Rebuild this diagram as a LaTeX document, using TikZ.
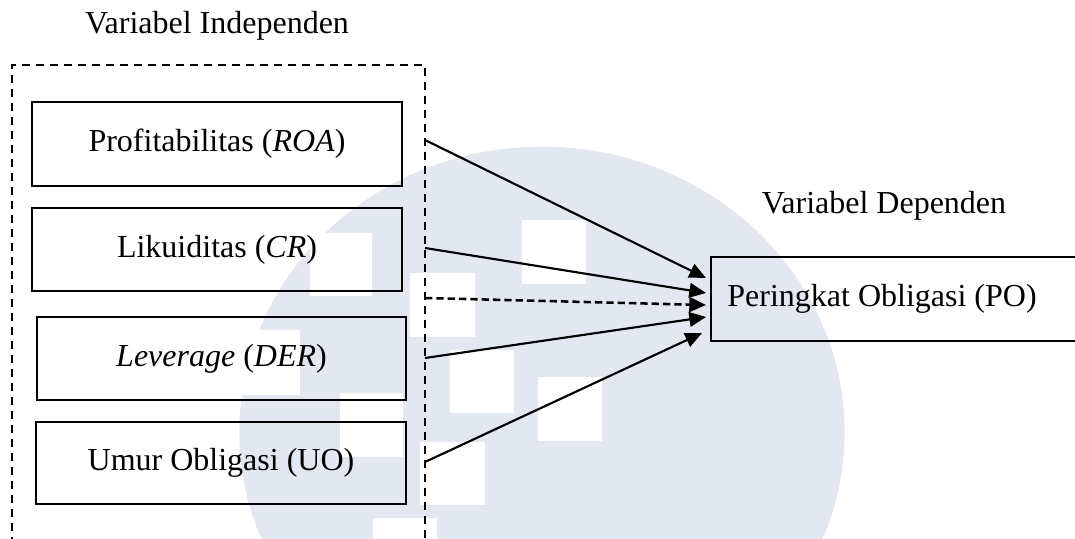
\documentclass[tikz,border=0pt]{standalone}
\usepackage{fontspec}
\setmainfont{Liberation Serif}
\usetikzlibrary{arrows.meta}
\definecolor{wm}{HTML}{E3E8F0}
\begin{document}
\begin{tikzpicture}[x=0.75pt,y=-0.75pt,
  box/.style={draw,line width=1.9pt,rectangle,inner sep=0pt,font=\fontsize{24}{28}\selectfont},
  lbl/.style={font=\fontsize{24}{28}\selectfont,inner sep=0pt,anchor=base},
  conn/.style={line width=1.6pt,-{Triangle[length=12.5pt,width=11pt]}},
  dconn/.style={conn,line width=1.9pt,dash pattern=on 5.5pt off 3pt},
  frame/.style={line width=1.5pt,dash pattern=on 6pt off 4.5pt},
  wsq/.style={fill=white}]
\useasboundingbox (0,0) rectangle (1075,539);
% watermark
\fill[wm] (542,432) ellipse [x radius=227pt, y radius=214pt];
\fill[wsq] (522,220) rectangle (586,284);
\fill[wsq] (410,273) rectangle (475,337);
\fill[wsq] (450,350) rectangle (514,413);
\fill[wsq] (538,377) rectangle (602,441);
\fill[wsq] (310,233) rectangle (372,296);
\fill[wsq] (340,393) rectangle (403,457);
\fill[wsq] (420,442) rectangle (485,505);
\fill[wsq] (373,518) rectangle (437,582);
\fill[wsq] (236,330) rectangle (300,395);
% frame
\draw[frame] (12,545) -- (12,65) -- (425,65) -- (425,545);
% labels
\node[lbl] (vi) at (217,33) {Variabel Independen};
\node[lbl] (vd) at (884,213) {Variabel Dependen};
% boxes
\node[box,minimum width=277.5pt,minimum height=63pt] (roa) at (217,144) {Profitabilitas (\textit{ROA})};
\node[box,minimum width=277.5pt,minimum height=62.25pt] (cr) at (217,249.5) {Likuiditas (\textit{CR})};
\node[box,minimum width=276.75pt,minimum height=62.25pt] (der) at (221.5,358.5) {\textit{Leverage} (\textit{DER})};
\node[box,minimum width=277.5pt,minimum height=61.5pt] (uo) at (221,463) {Umur Obligasi (UO)};
\node[box,minimum width=274.5pt,minimum height=63pt] (po) at (894,299) {Peringkat Obligasi (PO)\hspace*{18pt}};
% connector ends
\coordinate (s1) at (425,140);
\coordinate (s2) at (425,248);
\coordinate (s3) at (425,298);
\coordinate (s4) at (425,358);
\coordinate (s5) at (425,462);
\coordinate (t1) at (706,278);
\coordinate (t2) at (706,293);
\coordinate (t3) at (706,305);
\coordinate (t4) at (706,317);
\coordinate (t5) at (702,333);
\draw[conn] (s1) -- (t1);
\draw[conn] (s2) -- (t2);
\draw[dconn] (s3) -- (t3);
\draw[conn] (s4) -- (t4);
\draw[conn] (s5) -- (t5);
\end{tikzpicture}
\end{document}
